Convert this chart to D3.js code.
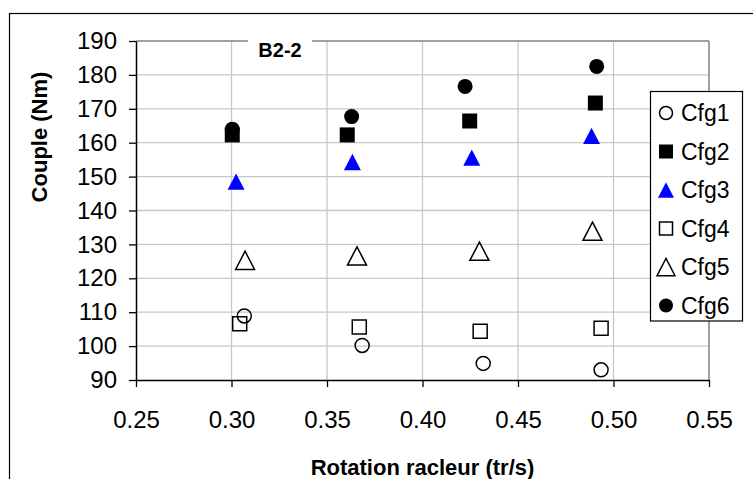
<!DOCTYPE html>
<html>
<head>
<meta charset="utf-8">
<script src="https://cdn.jsdelivr.net/npm/d3@7"></script>
<style>
  html, body { margin: 0; padding: 0; background: #fff; }
  svg { display: block; }
  text { font-family: "Liberation Sans", Arial, sans-serif; fill: #000; }
</style>
</head>
<body>
<svg id="chart" width="753" height="479"></svg>
<script>
// ---- Data ----
const seriesNames = ["Cfg1", "Cfg2", "Cfg3", "Cfg4", "Cfg5", "Cfg6"];
const cfg1X = [0.3067, 0.3684, 0.4318, 0.4935];
const cfg1Y = [108.9, 100.2, 94.9, 93.0];
const cfg2X = [0.3004, 0.3606, 0.4247, 0.4905];
const cfg2Y = [162.3, 162.3, 166.4, 171.7];
const cfg3X = [0.3024, 0.3633, 0.4258, 0.4885];
const cfg3Y = [148.5, 154.3, 155.6, 162.0];
const cfg4X = [0.3043, 0.3669, 0.4302, 0.4935];
const cfg4Y = [106.6, 105.6, 104.4, 105.3];
const cfg5X = [0.3071, 0.3657, 0.4298, 0.4890];
const cfg5Y = [125.3, 126.6, 128.0, 133.9];
const cfg6X = [0.3004, 0.3629, 0.4223, 0.4912];
const cfg6Y = [164.0, 167.7, 176.6, 182.5];
const xTicks = [0.25, 0.30, 0.35, 0.40, 0.45, 0.50, 0.55];
const yTicks = [90, 100, 110, 120, 130, 140, 150, 160, 170, 180, 190];
const chartTitle = "B2-2";
const xTitle = "Rotation racleur (tr/s)";
const yTitle = "Couple (Nm)";

// ---- Layout ----
const svg = d3.select("#chart");
const L = 136, R = 709, T = 41, B = 380;
const x = d3.scaleLinear().domain([0.25, 0.55]).range([L, R]);
const y = d3.scaleLinear().domain([90, 190]).range([B, T]);

// outer chart border
svg.append("rect").attr("x", 9.5).attr("y", 13.5).attr("width", 800).attr("height", 520)
  .attr("fill", "#fff").attr("stroke", "#000").attr("stroke-width", 1.2);

// gridlines
const grid = svg.append("g");
grid.selectAll("line.h").data(yTicks.filter(v => v > 90 && v < 190)).enter().append("line")
  .attr("x1", L).attr("x2", R).attr("y1", d => y(d)).attr("y2", d => y(d))
  .attr("stroke", "#c8c8c8").attr("stroke-width", 1.3);
grid.selectAll("line.v").data(xTicks.filter(v => v > 0.26 && v < 0.54)).enter().append("line")
  .attr("y1", T).attr("y2", B).attr("x1", d => x(d)).attr("x2", d => x(d))
  .attr("stroke", "#c8c8c8").attr("stroke-width", 1.3);

// plot border top/right (gray)
svg.append("line").attr("x1", L).attr("x2", R).attr("y1", T).attr("y2", T)
  .attr("stroke", "#808080").attr("stroke-width", 1.5);
svg.append("line").attr("x1", R).attr("x2", R).attr("y1", T).attr("y2", B)
  .attr("stroke", "#808080").attr("stroke-width", 1.5);

// axes
const yAxis = svg.append("g").attr("transform", `translate(${L},0)`)
  .call(d3.axisLeft(y).tickValues(yTicks).tickFormat(d3.format("d")).tickSize(7).tickSizeOuter(0).tickPadding(12));
const xAxis = svg.append("g").attr("transform", `translate(0,${B})`)
  .call(d3.axisBottom(x).tickValues(xTicks).tickFormat(d3.format(".2f")).tickSize(7).tickSizeOuter(0).tickPadding(24));
[yAxis, xAxis].forEach(a => {
  a.select(".domain").attr("stroke", "#000").attr("stroke-width", 1.5);
  a.selectAll(".tick line").attr("stroke", "#000").attr("stroke-width", 1.3);
  a.selectAll(".tick text").style("font-family", "'Liberation Sans', Arial, sans-serif")
    .style("font-size", "24px").attr("fill", "#000");
});
xAxis.selectAll(".tick text").attr("dy", "0.71em");

// title with white background
svg.append("rect").attr("x", 248).attr("y", 34).attr("width", 64).attr("height", 24).attr("fill", "#fff");
svg.append("text").attr("x", 280).attr("y", 57).attr("text-anchor", "middle")
  .style("font-size", "20px").style("font-weight", "bold").text(chartTitle);

// axis titles
svg.append("text").attr("x", (L + R) / 2).attr("y", 475).attr("text-anchor", "middle")
  .style("font-size", "22px").style("font-weight", "bold").text(xTitle);
svg.append("text").attr("transform", "translate(47,137) rotate(-90)").attr("text-anchor", "middle")
  .style("font-size", "22px").style("font-weight", "bold").text(yTitle);

// ---- marker shapes ----
function shapePath(kind) {
  switch (kind) {
    case "circle": return (s) => { const r = s / 2; return `M${-r},0A${r},${r} 0 1,0 ${r},0A${r},${r} 0 1,0 ${-r},0Z`; };
    case "square": return (s) => { const h = s / 2; return `M${-h},${-h}H${h}V${h}H${-h}Z`; };
    case "triangle": return (s) => { const w = s / 2, hh = s * 0.48; return `M0,${-hh}L${w},${hh}L${-w},${hh}Z`; };
  }
}
const styles = [
  { kind: "circle", size: 14, fill: "none", stroke: "#000", lw: 1.5 },
  { kind: "square", size: 15, fill: "#000", stroke: "none", lw: 0 },
  { kind: "triangle", size: 17, fill: "#0000ff", stroke: "none", lw: 0 },
  { kind: "square", size: 14, fill: "none", stroke: "#000", lw: 1.5 },
  { kind: "triangle", size: 19, fill: "none", stroke: "#000", lw: 1.5 },
  { kind: "circle", size: 15, fill: "#000", stroke: "none", lw: 0 }
];
const seriesX = [cfg1X, cfg2X, cfg3X, cfg4X, cfg5X, cfg6X];
const seriesY = [cfg1Y, cfg2Y, cfg3Y, cfg4Y, cfg5Y, cfg6Y];

const marks = svg.append("g");
seriesNames.forEach((name, i) => {
  const st = styles[i];
  const pts = seriesX[i].map((vx, j) => ({ x: vx, y: seriesY[i][j] }));
  marks.append("g").selectAll("path").data(pts).enter().append("path")
    .attr("transform", d => `translate(${x(d.x)},${y(d.y)})`)
    .attr("d", shapePath(st.kind)(st.size))
    .attr("fill", st.fill).attr("stroke", st.stroke).attr("stroke-width", st.lw);
});

// ---- legend ----
const lg = svg.append("g");
lg.append("rect").attr("x", 650.5).attr("y", 91.5).attr("width", 92).attr("height", 229.5)
  .attr("fill", "#fff").attr("stroke", "#000").attr("stroke-width", 1.2);
seriesNames.forEach((name, i) => {
  const st = styles[i];
  const cy = 113 + i * 38.5;
  lg.append("path").attr("transform", `translate(666,${cy})`)
    .attr("d", shapePath(st.kind)(st.size - 1))
    .attr("fill", st.fill).attr("stroke", st.stroke).attr("stroke-width", st.lw);
  lg.append("text").attr("x", 681).attr("y", cy).attr("dy", "0.36em")
    .style("font-size", "23px").text(name);
});
</script>
</body>
</html>
